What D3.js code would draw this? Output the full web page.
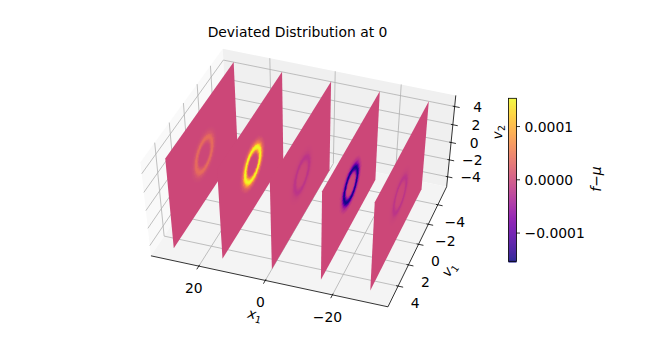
<!DOCTYPE html>
<html>
<head>
<meta charset="utf-8">
<script src="https://cdn.jsdelivr.net/npm/d3@7"></script>
<style>
  html, body { margin: 0; padding: 0; background: #fff; }
  svg { display: block; }
  text { font-family: "DejaVu Sans", sans-serif; fill: #000; }
</style>
</head>
<body>
<svg id="chart" width="648" height="360"></svg>
<script>
// Data
const sheetX = [29.4, 14.6, -0.3, -15, -29.7];
const sheetPeak = [0.00004, 0.00016, -0.00002, -0.00016, -0.00002];
const sheetV1 = [-5, 5];
const sheetV2 = [-5, 5];
// shape of the ring across radius in (v1, v2), 1 = crest of the ring
const ringRadius = [0, 0.75, 0.95, 1.15, 1.33, 1.5, 1.67, 1.85, 2.1, 2.5, 5.5];
const ringShape = [0, 0, 0.06, 0.38, 0.82, 1, 0.82, 0.4, 0.14, 0, 0];
const ringV1Squeeze = 1.25;
const x1Ticks = [20, 0, -20];
const v1Ticks = [-4, -2, 0, 2, 4];
const v2Ticks = [-4, -2, 0, 2, 4];
const cbarTicks = [0.0001, 0, -0.0001];

const svg = d3.select("#chart");

// Axis scales to the unit box
const xScale = d3.scaleLinear().domain([34.5, -36.4]).range([0, 1]);
const v1Scale = d3.scaleLinear().domain([-5.9, 5.9]).range([0, 1]);
const v2Scale = d3.scaleLinear().domain([-5.2, 5.2]).range([0, 1]);
const colorScale = d3.scaleSequential(d3.interpolatePlasma).domain([-0.000153, 0.000153]);
const shape = d3.scaleLinear().domain(ringRadius).range(ringShape);

const [xHi, xLo] = xScale.domain();
const [vLo, vHi] = v1Scale.domain();
const [zLo, zHi] = v2Scale.domain();

// Camera: solve the perspective matrix from where box and sheet corners land
const cameraAnchors = [
  [xHi, vLo, zHi, 219.3, 50], [xLo, vLo, zHi, 453.3, 95], [xLo, vLo, zLo, 445, 188.3],
  [xHi, vHi, zHi, 140, 160], [xHi, vHi, zLo, 150, 253.3], [xLo, vHi, zLo, 386, 306],
  [30, -5, 5, 232.7, 62.3], [30, 5, 5, 164.3, 159], [30, 5, -5, 172.3, 249],
  [-30, -5, 5, 431.7, 100], [-30, -5, -5, 425, 186.7], [-30, 5, 5, 375.7, 203.3], [-30, 5, -5, 371.3, 292.3],
  [0, -5, 5, 332.7, 81.7], [0, 5, -5, 272.3, 271]
];
const cam = solveCamera(cameraAnchors);

function solveCamera(anchors) {
  const rows = [], rhs = [];
  anchors.forEach(([x1, v1, v2, px, py]) => {
    const a = xScale(x1), b = v1Scale(v1), c = v2Scale(v2);
    rows.push([a, b, c, 1, 0, 0, 0, 0, -px * a, -px * b, -px * c]); rhs.push(px);
    rows.push([0, 0, 0, 0, a, b, c, 1, -py * a, -py * b, -py * c]); rhs.push(py);
  });
  // normal equations + gaussian elimination
  const n = 11;
  const m = d3.range(n).map(i => d3.range(n + 1).map(j =>
    d3.sum(rows, (r, k) => r[i] * (j < n ? r[j] : rhs[k]))));
  for (let i = 0; i < n; i++) {
    let best = i;
    for (let k = i + 1; k < n; k++) if (Math.abs(m[k][i]) > Math.abs(m[best][i])) best = k;
    [m[i], m[best]] = [m[best], m[i]];
    for (let k = 0; k < n; k++) {
      if (k === i) continue;
      const f = m[k][i] / m[i][i];
      for (let j = i; j <= n; j++) m[k][j] -= f * m[i][j];
    }
  }
  return m.map((r, i) => r[n] / r[i]);
}

function unitToPx(a, b, c) {
  const w = cam[8] * a + cam[9] * b + cam[10] * c + 1;
  return [(cam[0] * a + cam[1] * b + cam[2] * c + cam[3]) / w,
          (cam[4] * a + cam[5] * b + cam[6] * c + cam[7]) / w];
}
const project = (x1, v1, v2) => unitToPx(xScale(x1), v1Scale(v1), v2Scale(v2));

const line = d3.line();

// Panes
const panes = svg.append("g");
panes.append("path") // left wall
  .attr("d", line([project(xHi, vLo, zLo), project(xHi, vHi, zLo), project(xHi, vHi, zHi), project(xHi, vLo, zHi)]) + "Z")
  .attr("fill", "#f9f9f9");
panes.append("path") // back wall
  .attr("d", line([project(xHi, vLo, zLo), project(xLo, vLo, zLo), project(xLo, vLo, zHi), project(xHi, vLo, zHi)]) + "Z")
  .attr("fill", "#f0f0f0");
panes.append("path") // floor
  .attr("d", line([project(xHi, vLo, zLo), project(xLo, vLo, zLo), project(xLo, vHi, zLo), project(xHi, vHi, zLo)]) + "Z")
  .attr("fill", "#f4f4f4");

// Grid
const grid = svg.append("g").attr("fill", "none").attr("stroke", "#b0b0b0").attr("stroke-width", 0.8);
x1Ticks.forEach(t => {
  grid.append("path").attr("d", line([project(t, vHi, zLo), project(t, vLo, zLo), project(t, vLo, zHi)]));
});
v1Ticks.forEach(t => {
  grid.append("path").attr("d", line([project(xLo, t, zLo), project(xHi, t, zLo), project(xHi, t, zHi)]));
});
v2Ticks.forEach(t => {
  grid.append("path").attr("d", line([project(xHi, vHi, t), project(xHi, vLo, t), project(xLo, vLo, t)]));
});

// Axis lines and ticks
const axes = svg.append("g").attr("fill", "none").attr("stroke", "#000").attr("stroke-width", 0.8);
axes.append("path").attr("d", line([project(xHi, vHi, zLo), project(xLo, vHi, zLo), project(xLo, vLo, zLo), project(xLo, vLo, zHi)]));
x1Ticks.forEach(t => axes.append("path").attr("d", line([project(t, vHi - 0.12, zLo), project(t, vHi + 0.3, zLo)])));
v1Ticks.forEach(t => axes.append("path").attr("d", line([project(xLo + 0.6, t, zLo), project(xLo - 1.5, t, zLo)])));
v2Ticks.forEach(t => axes.append("path").attr("d", line([project(xLo + 0.6, vLo, t), project(xLo - 1.5, vLo, t)])));

// Sheets, far one first: a flat sheet, then cells only where the ring lifts it off the background
const cells = 110;
const v1Edges = d3.range(cells + 1).map(d3.scaleLinear().domain([0, cells]).range(sheetV1));
const v2Edges = d3.range(cells + 1).map(d3.scaleLinear().domain([0, cells]).range(sheetV2));
sheetX.forEach((x, si) => {
  const g = svg.append("g").attr("class", "sheet");
  g.append("path")
    .attr("d", line([project(x, sheetV1[0], sheetV2[0]), project(x, sheetV1[1], sheetV2[0]),
                     project(x, sheetV1[1], sheetV2[1]), project(x, sheetV1[0], sheetV2[1])]) + "Z")
    .attr("fill", colorScale(0));
  const ring = g.append("g").attr("shape-rendering", "crispEdges");
  for (let i = 0; i < cells; i++) {
    for (let j = 0; j < cells; j++) {
      const v1a = v1Edges[i], v1b = v1Edges[i + 1], v2a = v2Edges[j], v2b = v2Edges[j + 1];
      const r = Math.hypot(ringV1Squeeze * (v1a + v1b) / 2, (v2a + v2b) / 2);
      const s = shape(r);
      if (s <= 0) continue;
      const c = colorScale(sheetPeak[si] * s);
      ring.append("path")
        .attr("d", line([project(x, v1a, v2a), project(x, v1b, v2a), project(x, v1b, v2b), project(x, v1a, v2b)]) + "Z")
        .attr("fill", c).attr("stroke", c).attr("stroke-width", 0.5);
    }
  }
});

// Tick labels
const fontSize = 13.9;
const labels = svg.append("g").attr("font-size", fontSize).attr("text-anchor", "middle");
const fmt = d => String(d).replace("-", "\u2212");
x1Ticks.forEach(t => {
  const [px, py] = project(t, vHi, zLo);
  labels.append("text").attr("x", px - 5).attr("y", py + 27).text(fmt(t));
});
v1Ticks.forEach(t => {
  const [px, py] = project(xLo, t, zLo);
  labels.append("text").attr("x", px + 17).attr("y", py + 22).text(fmt(t));
});
v2Ticks.forEach(t => {
  const [px, py] = project(xLo, vLo, t);
  labels.append("text").attr("x", px + 23).attr("y", py + 5).text(fmt(t));
});

// Axis titles
function mathLabel(px, py, angle, base, sub) {
  const t = svg.append("text").attr("font-size", fontSize).attr("text-anchor", "middle")
    .attr("transform", `translate(${px},${py}) rotate(${angle})`);
  t.append("tspan").attr("font-style", "italic").text(base);
  t.append("tspan").attr("font-size", fontSize * 0.7).attr("dy", 3).text(sub);
}
mathLabel(254, 319, 13, "x", "1");
mathLabel(453, 272, -55, "v", "1");
mathLabel(502, 132, -92, "v", "2");

svg.append("text").attr("x", 297.5).attr("y", 36.5).attr("font-size", fontSize).attr("text-anchor", "middle")
  .text("Deviated Distribution at 0");

// Colorbar
const cbarY = d3.scaleLinear().domain(colorScale.domain()).range([261.3, 98.3]);
const cbar = svg.append("g");
const cbarSteps = d3.range(0, 164);
cbar.selectAll("rect").data(cbarSteps).join("rect")
  .attr("x", 508.5).attr("width", 8)
  .attr("y", d => 98.3 + d).attr("height", 1.2)
  .attr("fill", d => colorScale(cbarY.invert(98.3 + d + 0.5)));
cbar.append("rect").attr("x", 508.5).attr("y", 98.3).attr("width", 8).attr("height", 163)
  .attr("fill", "none").attr("stroke", "#000").attr("stroke-width", 0.8);
cbarTicks.forEach(t => {
  const y = cbarY(t);
  cbar.append("line").attr("x1", 516.5).attr("x2", 520).attr("y1", y).attr("y2", y)
    .attr("stroke", "#000").attr("stroke-width", 0.8);
  cbar.append("text").attr("x", 524.5).attr("y", y + 5).attr("font-size", fontSize)
    .text(fmt(t.toFixed(4)));
});
const muLabel = svg.append("text").attr("font-size", fontSize).attr("text-anchor", "middle")
  .attr("transform", "translate(601,179) rotate(-90)");
muLabel.append("tspan").attr("font-style", "italic").text("f");
muLabel.append("tspan").text("\u2212");
muLabel.append("tspan").attr("font-style", "italic").text("\u03bc");
</script>
</body>
</html>
